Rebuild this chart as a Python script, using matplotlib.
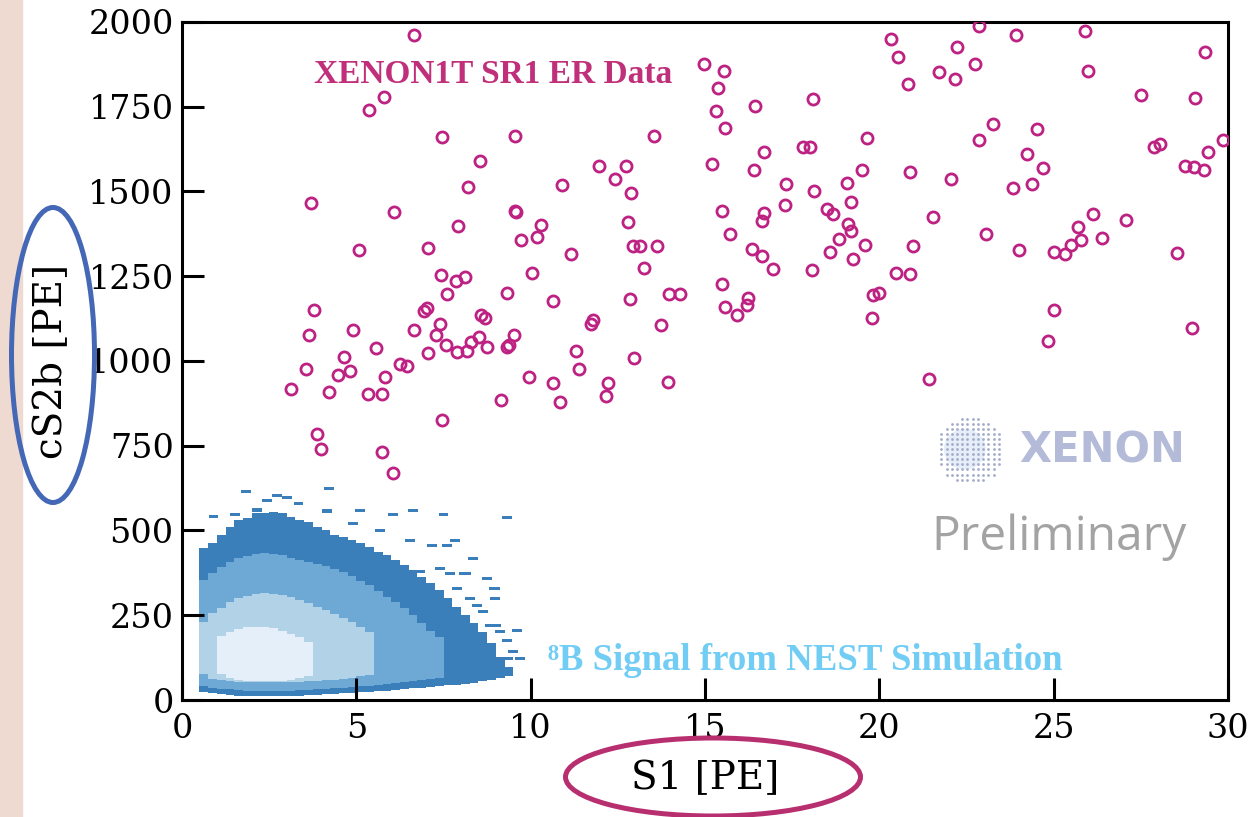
import numpy as np
import matplotlib.pyplot as plt
from matplotlib.patches import Ellipse, Rectangle

plt.rcParams['font.family'] = 'DejaVu Serif'

# XENON1T SR1 ER events: S1 [PE] and cS2b [PE]
s1_er = [6.66, 5.78, 5.37, 7.46, 8.20, 3.70, 6.09, 7.92, 5.08, 7.05,
         7.44, 7.86, 8.12, 7.61, 3.78, 7.03, 6.94, 3.63, 4.90, 6.66,
         7.39, 7.28, 7.56, 7.88, 8.17, 8.30, 5.57, 4.65, 7.05, 3.56,
         4.47, 4.82, 6.25, 6.46, 5.83, 3.13, 4.22, 5.34, 5.74, 7.45,
         3.87, 3.99, 5.73, 6.04, 14.96, 9.55, 13.54, 8.55, 11.96, 12.73,
         12.42, 12.87, 10.90, 9.55, 9.59, 10.30, 9.72, 10.17, 12.78, 12.93,
         13.13, 13.63, 11.16, 13.25, 10.03, 9.31, 10.64, 12.86, 13.97, 14.28,
         8.57, 8.69, 11.80, 11.72, 13.75, 8.53, 8.74, 9.52, 9.31, 9.39,
         11.29, 11.39, 12.96, 9.95, 10.63, 12.21, 12.15, 13.95, 9.14, 10.84,
         20.34, 20.54, 22.24, 21.70, 22.18, 20.83, 15.54, 15.38, 15.31, 15.56,
         16.42, 18.09, 19.65, 16.69, 17.82, 18.01, 15.21, 16.41, 19.51, 20.89,
         22.04, 17.33, 19.06, 18.12, 17.29, 19.18, 15.49, 16.70, 16.64, 18.49,
         18.67, 19.11, 19.18, 21.55, 15.72, 18.85, 19.58, 20.95, 16.35, 16.62,
         18.57, 19.24, 16.96, 18.08, 20.48, 20.89, 15.49, 16.24, 16.21, 15.57,
         15.92, 19.81, 19.99, 19.79, 21.43, 22.86, 23.92, 25.89, 22.73, 29.35,
         25.99, 27.51, 29.06, 23.25, 22.86, 24.51, 24.23, 24.69, 23.84, 24.38,
         27.88, 28.05, 29.85, 29.42, 28.77, 29.03, 29.32, 26.12, 27.08, 25.70,
         25.78, 25.50, 25.32, 25.02, 26.38, 23.05, 24.01, 28.53, 25.00, 24.84,
         28.97]
cs2b_er = [1962, 1780, 1740, 1662, 1513, 1465, 1439, 1398, 1327, 1334,
           1254, 1236, 1248, 1197, 1151, 1157, 1148, 1078, 1092, 1091,
           1108, 1077, 1046, 1026, 1030, 1056, 1038, 1011, 1025, 976,
           960, 970, 990, 984, 952, 918, 908, 904, 902, 825,
           784, 740, 731, 671, 1875, 1665, 1665, 1590, 1575, 1575,
           1536, 1496, 1519, 1443, 1440, 1400, 1357, 1366, 1409, 1340,
           1340, 1338, 1315, 1274, 1259, 1200, 1178, 1182, 1199, 1199,
           1136, 1126, 1122, 1110, 1106, 1070, 1040, 1077, 1041, 1047,
           1030, 977, 1008, 953, 935, 935, 898, 937, 886, 878,
           1949, 1898, 1927, 1853, 1833, 1816, 1856, 1805, 1738, 1687,
           1752, 1772, 1659, 1617, 1632, 1632, 1580, 1563, 1564, 1558,
           1536, 1523, 1525, 1502, 1461, 1468, 1443, 1438, 1414, 1448,
           1435, 1403, 1384, 1426, 1376, 1360, 1343, 1338, 1331, 1311,
           1322, 1302, 1272, 1269, 1261, 1258, 1227, 1187, 1165, 1159,
           1137, 1195, 1202, 1128, 947, 1989, 1962, 1974, 1875, 1910,
           1856, 1785, 1777, 1700, 1651, 1684, 1610, 1570, 1510, 1522,
           1632, 1641, 1652, 1616, 1576, 1572, 1564, 1435, 1417, 1395,
           1357, 1342, 1317, 1322, 1364, 1376, 1328, 1319, 1150, 1059,
           1097]

# 8B signal (NEST): density bands in 0.25 PE wide S1 bins,
# lower/upper cS2b of each band per bin (outer to inner)
outer_start = 0.5
outer_lo = [25, 20, 17, 15, 13, 12, 12, 11, 11, 12, 12, 13, 14, 15, 17, 18, 20, 22,
            24, 25, 27, 28, 30, 32, 34, 36, 38, 40, 43, 45, 48, 51, 55, 59, 64, 72]
outer_hi = [448, 463, 487, 511, 531, 537, 552, 552, 555, 552, 540, 531, 525, 511,
            501, 487, 481, 472, 463, 451, 437, 428, 413, 398, 383, 363, 345, 325,
            300, 275, 251, 227, 201, 167, 127, 98]

mid_start = 0.5
mid_lo = [40, 36, 33, 31, 29, 28, 27, 27, 27, 28, 28, 29, 30, 31,
          33, 34, 36, 38, 40, 42, 44, 46, 49, 52, 55, 58, 62, 66]
mid_hi = [355, 375, 393, 408, 418, 425, 432, 434, 432, 428, 420, 414, 408, 401,
          394, 386, 377, 366, 352, 338, 322, 305, 288, 270, 250, 228, 205, 185]

inner_start = 0.5
inner_lo = [78, 62, 58, 55, 54, 53, 52, 52, 52, 52, 53, 54, 55, 56, 58, 60, 63, 66, 70, 75]
inner_hi = [230, 258, 272, 290, 300, 307, 313, 315, 313, 310, 303, 295, 285, 275,
            265, 254, 243, 230, 216, 200]

core_start = 1.0
core_lo = [78, 65, 60, 56, 55, 55, 55, 57, 60, 65, 72]
core_hi = [190, 201, 210, 215, 216, 215, 212, 205, 196, 185, 172]

# isolated low-count bins around the outer band
fringe_s1 = [1.83, 2.72, 2.43, 3.00, 4.22, 3.34, 0.90, 1.52, 2.14, 4.15,
             5.10, 6.06, 6.63, 7.50, 9.31, 4.91, 5.68, 6.54, 7.83, 8.35,
             8.98, 9.60, 9.36, 9.02, 7.59, 7.16, 8.16, 8.74, 6.83, 7.40,
             7.69, 8.07, 7.88, 8.26, 8.45, 8.64, 8.83, 9.12, 9.31, 9.50,
             9.69, 9.26, 8.98, 8.93]
fringe_cs2b = [610, 598, 585, 593, 620, 575, 536, 543, 556, 553,
               554, 543, 554, 543, 533, 516, 496, 467, 467, 413,
               325, 201, 118, 216, 452, 452, 369, 354, 374, 384,
               369, 369, 325, 295, 275, 256, 216, 197, 172, 138,
               118, 79, 295, 325]

band_colors = ['#3a7fba', '#6da9d4', '#b2d2e8', '#e4eff9']
bin_w = 0.25

fig = plt.figure(figsize=(12.58, 8.17), dpi=100)
fig.add_artist(Rectangle((0, 0), 22 / 1258, 1, transform=fig.transFigure,
                         color='#eedad1', zorder=0))
ax = fig.add_axes([0.1447, 0.1432, 0.8315, 0.8299])

# signal bands, outer to inner
bands = [(outer_start, outer_lo, outer_hi),
         (mid_start, mid_lo, mid_hi),
         (inner_start, inner_lo, inner_hi),
         (core_start, core_lo, core_hi)]
for (start, lo, hi), color in zip(bands, band_colors):
    edges = start + bin_w * np.arange(len(lo) + 1)
    ax.fill_between(edges, lo + [lo[-1]], hi + [hi[-1]], step='post',
                    color=color, lw=0, zorder=1)
ax.bar(fringe_s1, 9, bottom=fringe_cs2b, width=0.28, color=band_colors[0],
       lw=0, zorder=1)

# ER data
ax.plot(s1_er, cs2b_er, 'o', ms=8, mfc='none', mec='#bd2283', mew=2.0,
        zorder=3)

# XENON logo and preliminary tag
cx, cy, rx, ry = 22.6, 735, 0.975, 100
gx, gy = np.meshgrid(np.arange(cx - rx, cx + rx, 0.15), np.arange(cy - ry, cy + ry, 15))
inside = ((gx - cx) / rx) ** 2 + ((gy - cy) / ry) ** 2 <= 1
ax.add_patch(Ellipse((cx - 0.15, cy + 5), 1.2, 120, color='#e6eff9', lw=0, zorder=1))
ax.scatter(gx[inside], gy[inside], s=4, color='#a3abc9', lw=0, zorder=2)
ax.text(24.0, 735, 'XENON', ha='left', va='center', fontsize=30,
        fontweight='bold', family='DejaVu Sans', color='#b3bbd8')
ax.text(21.5, 442, 'Preliminary', ha='left', va='baseline', fontsize=34.5,
        family='Open Sans', color='#a3a3a3')

ax.text(8.92, 1820, 'XENON1T SR1 ER Data', ha='center', va='baseline',
        fontsize=24, fontweight='bold', family='Liberation Serif', color='#c0307a')
ax.text(10.5, 88, '⁸B Signal from NEST Simulation', ha='left', va='baseline',
        fontsize=26.5, fontweight='bold', family=['Liberation Serif', 'DejaVu Serif'],
        color='#72cdf4')

ax.set_xlim(0, 30)
ax.set_ylim(0, 2000)
ax.set_xticks(range(0, 31, 5))
ax.set_yticks(range(0, 2001, 250))
ax.tick_params(direction='in', length=16, width=2.2, labelsize=24)
ax.tick_params(axis='x', pad=9)
ax.tick_params(axis='y', pad=6)
for sp in ax.spines.values():
    sp.set_linewidth(2.2)

ax.set_xlabel('S1 [PE]', fontsize=28)
ax.set_ylabel('cS2b [PE]', fontsize=28)
ax.xaxis.set_label_coords(0.5, -0.088)
ax.yaxis.set_label_coords(-0.107, 0.5)

# highlight rings around the axis titles
fig.add_artist(Ellipse((53 / 1258, 1 - 355 / 817), 83 / 1258, 295 / 817,
                       transform=fig.transFigure, fill=False, ec='#4468b6', lw=3.6))
fig.add_artist(Ellipse((713 / 1258, 1 - 777 / 817), 295 / 1258, 78 / 817,
                       transform=fig.transFigure, fill=False, ec='#b82f6f', lw=3.6))

fig.savefig('out.png', dpi=100)
